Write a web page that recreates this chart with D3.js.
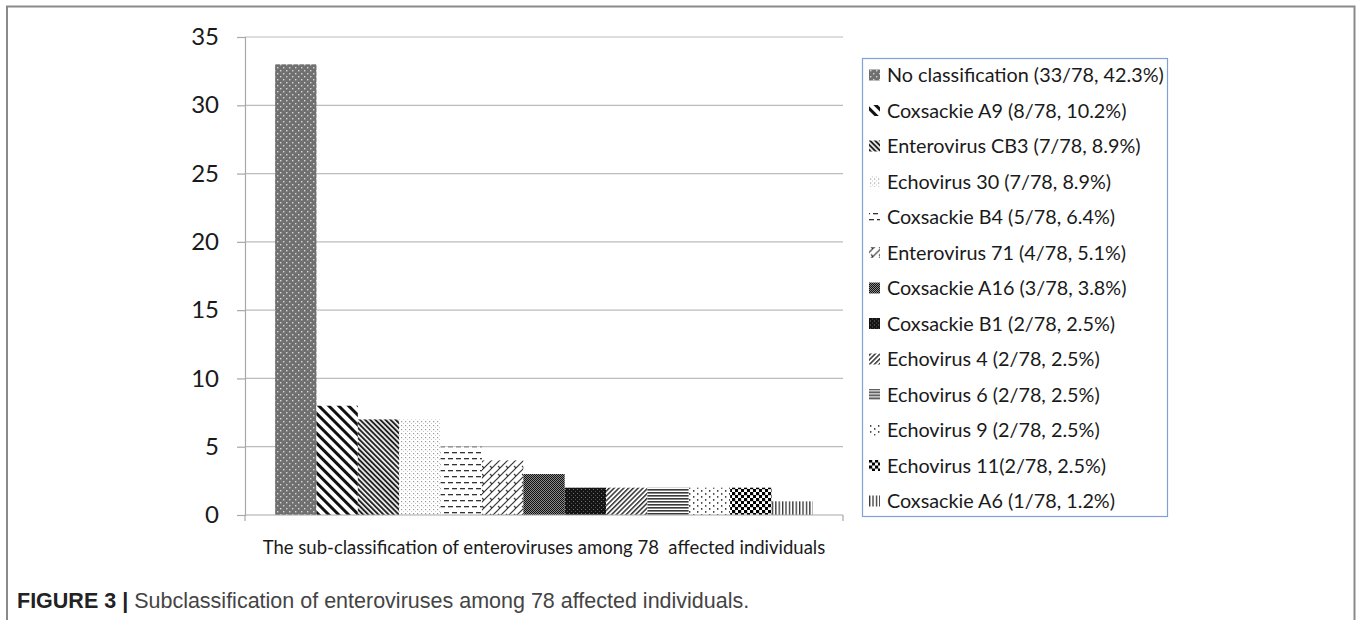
<!DOCTYPE html>
<html>
<head>
<meta charset="utf-8">
<script src="https://cdn.jsdelivr.net/npm/d3@7"></script>
<style>
  html, body { margin: 0; padding: 0; background: #fff; }
  svg { display: block; }
</style>
</head>
<body>
<svg id="chart" width="1357" height="620"></svg>
<script>
// Enterovirus sub-types and their counts among 78 affected individuals
const categories = [
  "No classification", "Coxsackie A9", "Enterovirus CB3", "Echovirus 30",
  "Coxsackie B4", "Enterovirus 71", "Coxsackie A16", "Coxsackie B1",
  "Echovirus 4", "Echovirus 6", "Echovirus 9", "Echovirus 11", "Coxsackie A6"
];
const counts = [33, 8, 7, 7, 5, 4, 3, 2, 2, 2, 2, 2, 1];
const shares = ["42.3%", "10.2%", "8.9%", "8.9%", "6.4%", "5.1%", "3.8%", "2.5%", "2.5%", "2.5%", "2.5%", "2.5%", "1.2%"];
const total = 78;
const yTicks = [0, 5, 10, 15, 20, 25, 30, 35];
const groupLabel = "The sub-classification of enteroviruses among 78  affected individuals";
const captionBold = "FIGURE 3 |";
const captionText = "Subclassification of enteroviruses among 78 affected individuals.";

// legend label, e.g. "Coxsackie A9 (8/78, 10.2%)"; Echovirus 11 is written without the space
const legendLabels = categories.map((c, i) =>
  c + (c === "Echovirus 11" ? "" : " ") + "(" + counts[i] + "/" + total + ", " + shares[i] + ")");

const chartFont = "Lato, 'Open Sans', sans-serif";
const svg = d3.select("#chart");
const defs = svg.append("defs");

// ---- fill patterns, one per sub-type ----
function pattern(id, w, h, draw, transform) {
  const p = defs.append("pattern").attr("id", id)
    .attr("patternUnits", "userSpaceOnUse").attr("width", w).attr("height", h);
  if (transform) p.attr("patternTransform", transform);
  draw(p);
}
const rect = (p, x, y, w, h, c) => p.append("rect").attr("x", x).attr("y", y).attr("width", w).attr("height", h).attr("fill", c);

// 0 dotted dark gray
pattern("p0", 6, 6, p => { rect(p, 0, 0, 6, 6, "#707070"); rect(p, 1, 1, 1.4, 1.4, "#d6d6d6"); rect(p, 4, 4, 1.4, 1.4, "#d6d6d6"); });
// 1 wide downward diagonal
pattern("p1", 7, 7, p => { rect(p, 0, 0, 7, 7, "#fff"); rect(p, 0, 0, 3, 7, "#111"); }, "rotate(-45)");
// 2 dense downward diagonal
pattern("p2", 3.6, 3.6, p => { rect(p, 0, 0, 3.6, 3.6, "#f2f2f2"); rect(p, 0, 0, 1.9, 3.6, "#222"); }, "rotate(-45)");
// 3 light dots
pattern("p3", 4, 4, p => { rect(p, 0, 0, 4, 4, "#fff"); rect(p, 1, 1, 1.2, 1.2, "#9a9a9a"); rect(p, 3, 3, 1, 1, "#c4c4c4"); });
// 4 dashed horizontal
pattern("p4", 8, 12, p => { rect(p, 0, 0, 8, 12, "#fff"); rect(p, 0, 2, 5, 1.3, "#333"); rect(p, 4, 8, 5, 1.3, "#333"); rect(p, -4, 8, 5, 1.3, "#333"); });
// 5 diagonal weave
pattern("p5", 8, 8, p => {
  rect(p, 0, 0, 8, 8, "#fff");
  p.append("path").attr("d", "M0,8L8,0M-4,4L4,-4M4,12L12,4").attr("stroke", "#333").attr("stroke-width", 1.2);
  p.append("path").attr("d", "M2,2L4,4").attr("stroke", "#333").attr("stroke-width", 1.1);
});
// 6 dark small checker
pattern("p6", 2, 2, p => { rect(p, 0, 0, 2, 2, "#8a8a8a"); rect(p, 0, 0, 1, 1, "#111"); rect(p, 1, 1, 1, 1, "#111"); });
// 7 nearly solid black
pattern("p7", 4, 4, p => { rect(p, 0, 0, 4, 4, "#141414"); rect(p, 1, 1, 1, 1, "#777"); rect(p, 3, 3, 1, 1, "#555"); });
// 8 dense upward diagonal
pattern("p8", 3.4, 3.4, p => { rect(p, 0, 0, 3.4, 3.4, "#fff"); rect(p, 0, 0, 1.5, 3.4, "#333"); }, "rotate(45)");
// 9 dense horizontal lines
pattern("p9", 4, 3, p => { rect(p, 0, 0, 4, 3, "#fff"); rect(p, 0, 0, 4, 1.6, "#3a3a3a"); });
// 10 sparse dots
pattern("p10", 8, 6, p => { rect(p, 0, 0, 8, 6, "#fff"); rect(p, 1, 1, 1.4, 1.8, "#444"); rect(p, 5, 4, 1.4, 1.8, "#444"); });
// 11 large checkerboard
pattern("p11", 6, 6, p => { rect(p, 0, 0, 6, 6, "#fff"); rect(p, 0, 0, 3.2, 3.2, "#000"); rect(p, 3, 3, 3.2, 3.2, "#000"); });
// 12 narrow vertical lines
pattern("p12", 3.4, 4, p => { rect(p, 0, 0, 3.4, 4, "#fff"); rect(p, 0, 0, 1.3, 4, "#333"); });

const fills = categories.map((c, i) => "url(#p" + i + ")");

// ---- outer frame ----
svg.append("rect").attr("x", 7).attr("y", 6.5).attr("width", 1347.5).attr("height", 640)
  .attr("fill", "none").attr("stroke", "#8a8a8a").attr("stroke-width", 2);

// ---- scales ----
const plotLeft = 245, plotRight = 843, plotTop = 37, plotBottom = 515;
const y = d3.scaleLinear().domain([0, 35]).range([plotBottom, plotTop]);
const xGroup = d3.scaleBand().domain([groupLabel]).range([plotLeft, plotRight]).paddingOuter(0.056).paddingInner(0);
const xSeries = d3.scaleBand().domain(categories)
  .range([xGroup(groupLabel), xGroup(groupLabel) + xGroup.bandwidth()]).padding(0);

// gridlines
svg.append("g").selectAll("line").data(yTicks.filter(t => t > 0)).join("line")
  .attr("x1", plotLeft).attr("x2", plotRight)
  .attr("y1", d => y(d)).attr("y2", d => y(d))
  .attr("stroke", "#bcbcbc").attr("stroke-width", 1.2);

// y axis
const yAxis = svg.append("g").attr("transform", `translate(${plotLeft},0)`)
  .call(d3.axisLeft(y).tickValues(yTicks).tickSize(8).tickPadding(18));
yAxis.select(".domain").attr("stroke", "#a8a8a8").attr("stroke-width", 1.2);
yAxis.selectAll(".tick line").attr("stroke", "#a8a8a8").attr("stroke-width", 1.2);
yAxis.selectAll(".tick text").attr("font-family", chartFont).attr("font-size", 24).attr("fill", "#1a1a1a");

// bars
svg.append("g").selectAll("rect").data(categories).join("rect")
  .attr("x", d => xSeries(d))
  .attr("width", xSeries.bandwidth())
  .attr("y", (d, i) => y(counts[i]))
  .attr("height", (d, i) => y(0) - y(counts[i]))
  .attr("fill", (d, i) => fills[i]);

// x axis with end ticks
const xAxis = svg.append("g").attr("transform", `translate(0,${plotBottom})`);
xAxis.append("line").attr("x1", plotLeft).attr("x2", plotRight).attr("stroke", "#a8a8a8").attr("stroke-width", 1.2);
xAxis.selectAll("line.edge").data([plotLeft, plotRight]).join("line").attr("class", "edge")
  .attr("x1", d => d).attr("x2", d => d).attr("y1", 0).attr("y2", 6)
  .attr("stroke", "#a8a8a8").attr("stroke-width", 1.2);
xAxis.append("text")
  .attr("x", xGroup(groupLabel) + xGroup.bandwidth() / 2).attr("y", 39)
  .attr("text-anchor", "middle").attr("font-family", chartFont).attr("font-size", 18.5)
  .attr("fill", "#1a1a1a").style("white-space", "pre")
  .text(groupLabel);

// ---- legend ----
const legend = svg.append("g");
legend.append("rect").attr("x", 862.5).attr("y", 58.5).attr("width", 305).attr("height", 458)
  .attr("fill", "#fff").attr("stroke", "#7ea2d6").attr("stroke-width", 1.2);
const rows = legend.selectAll("g.item").data(legendLabels).join("g").attr("class", "item")
  .attr("transform", (d, i) => `translate(869,${75 + i * 35.5})`);
rows.append("rect").attr("x", 0).attr("y", -5.5).attr("width", 11).attr("height", 11)
  .attr("fill", (d, i) => fills[i]);
rows.append("text").attr("x", 18).attr("y", 0).attr("dy", "0.36em")
  .attr("font-family", chartFont).attr("font-size", 19.8).attr("fill", "#1a1a1a").text(d => d);

// ---- caption ----
const cap = svg.append("text").attr("x", 17).attr("y", 608)
  .attr("font-family", "'Liberation Sans', Arial, sans-serif").attr("font-size", 21.5);
cap.append("tspan").attr("font-weight", "bold").attr("fill", "#222").text(captionBold);
cap.append("tspan").attr("fill", "#444").text(" " + captionText);
</script>
</body>
</html>
